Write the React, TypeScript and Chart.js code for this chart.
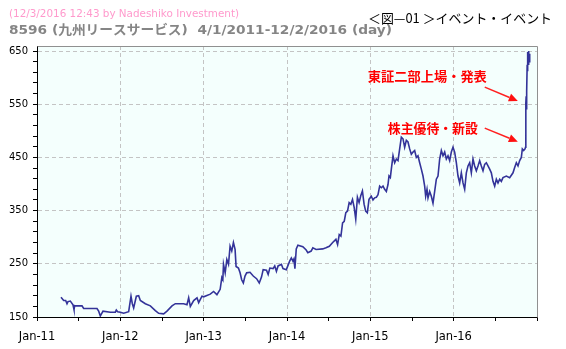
import React, { useEffect, useRef } from "react";
import { Chart, registerables } from "chart.js";

Chart.register(...registerables);

// Decimal-year dates and closing prices
const years: number[] = [
  2011.288, 2011.32, 2011.344, 2011.36, 2011.372, 2011.4, 2011.432, 2011.444, 2011.452, 2011.54,
  2011.56, 2011.72, 2011.74, 2011.76, 2011.792, 2011.88, 2011.94, 2011.952, 2011.968, 2012.0,
  2012.04, 2012.1, 2012.128, 2012.144, 2012.16, 2012.192, 2012.22, 2012.24, 2012.3, 2012.36,
  2012.42, 2012.46, 2012.52, 2012.56, 2012.62, 2012.66, 2012.76, 2012.8, 2012.82, 2012.84,
  2012.88, 2012.92, 2012.94, 2012.98,
  2013.0, 2013.079, 2013.119, 2013.159, 2013.198, 2013.218, 2013.23, 2013.238, 2013.258, 2013.278,
  2013.298, 2013.317, 2013.337, 2013.357, 2013.377, 2013.389, 2013.417, 2013.437, 2013.456, 2013.476,
  2013.496, 2013.516, 2013.556, 2013.595, 2013.635, 2013.667, 2013.694, 2013.714, 2013.754, 2013.774,
  2013.794, 2013.833, 2013.853, 2013.873, 2013.893, 2013.933, 2013.952, 2013.992, 2014.012, 2014.032,
  2014.052, 2014.071, 2014.083, 2014.095, 2014.111, 2014.131, 2014.19, 2014.23, 2014.25, 2014.29,
  2014.31, 2014.349, 2014.429, 2014.468, 2014.508, 2014.548, 2014.587, 2014.607, 2014.627, 2014.647,
  2014.667, 2014.687, 2014.706, 2014.726, 2014.746, 2014.766, 2014.786, 2014.806, 2014.825, 2014.845,
  2014.865, 2014.885, 2014.905, 2014.925, 2014.944, 2014.964, 2014.984,
  2015.012, 2015.032, 2015.052, 2015.072, 2015.092, 2015.112, 2015.132, 2015.152, 2015.172, 2015.192,
  2015.212, 2015.224, 2015.24, 2015.252, 2015.272, 2015.292, 2015.312, 2015.332, 2015.352, 2015.372,
  2015.392, 2015.412, 2015.432, 2015.452, 2015.472, 2015.492, 2015.512, 2015.532, 2015.552, 2015.572,
  2015.592, 2015.612, 2015.632, 2015.652, 2015.664, 2015.68, 2015.692, 2015.712, 2015.732, 2015.752,
  2015.772, 2015.792, 2015.812, 2015.832, 2015.852, 2015.872, 2015.892, 2015.912, 2015.932, 2015.952,
  2015.972, 2015.992, 2016.012, 2016.032, 2016.052, 2016.072, 2016.092, 2016.112, 2016.132, 2016.152,
  2016.172, 2016.192, 2016.212, 2016.232, 2016.252, 2016.272, 2016.292, 2016.312, 2016.332, 2016.352,
  2016.372, 2016.392, 2016.412, 2016.432, 2016.452, 2016.472, 2016.492, 2016.512, 2016.532, 2016.552,
  2016.572, 2016.592, 2016.632, 2016.672, 2016.712, 2016.732, 2016.752, 2016.772, 2016.792, 2016.812,
  2016.824, 2016.84, 2016.856, 2016.862, 2016.866, 2016.87, 2016.874, 2016.878, 2016.882, 2016.886,
  2016.89, 2016.896, 2016.9, 2016.905, 2016.91, 2016.915,
];

const prices: number[] = [
  187, 181, 181, 175, 179, 180, 173, 164, 171, 171,
  166, 166, 161, 152, 161, 159, 159, 163, 160, 159,
  157, 160, 189, 175, 167, 189, 190, 181, 175, 171,
  162, 157, 156, 161, 171, 175, 175, 173, 186, 170,
  181, 186, 177, 189,
  188, 193, 198, 192, 202, 224, 220, 249, 233, 258,
  249, 283, 274, 290, 277, 245, 242, 233, 220, 214,
  227, 233, 234, 227, 222, 214, 225, 239, 238, 230,
  242, 241, 246, 236, 246, 249, 241, 239, 247, 255,
  261, 255, 259, 241, 278, 285, 282, 276, 271, 274,
  280, 277, 278, 280, 283, 290, 296, 286, 305, 302,
  327, 330, 346, 349, 365, 362, 371, 356, 334, 375,
  365, 378, 387, 362, 349, 346, 371,
  377, 370, 374, 375, 380, 396, 393, 396, 390, 386,
  399, 415, 412, 428, 453, 440, 447, 444, 466, 488,
  485, 469, 482, 479, 466, 456, 460, 463, 450, 453,
  440, 428, 415, 396, 377, 390, 374, 386, 377, 364,
  386, 409, 415, 447, 463, 453, 460, 447, 453, 444,
  460, 469, 460, 440, 415, 402, 421, 402, 390, 421,
  434, 440, 421, 447, 434, 425, 434, 444, 434, 425,
  437, 440, 434, 428, 421, 405, 396, 409, 402, 409,
  405, 412, 415, 412, 421, 431, 440, 434, 444, 450,
  466, 463, 466, 469, 552, 565, 540, 575, 624, 612,
  648, 625, 650, 630, 645, 640,
];

const yTicks: number[] = [150, 250, 350, 450, 550, 650];
const xTickYears: number[] = [2011, 2012, 2013, 2014, 2015, 2016];

const stampText = "(12/3/2016 12:43 by Nadeshiko Investment)";
const titleText = "8596 (九州リースサービス)  4/1/2011-12/2/2016 (day)";
const figText = "＜図—01 ＞イベント・イベント";
const note1 = "東証二部上場・発表";
const note2 = "株主優待・新設";

const X_MIN = 2011;
const X_MAX = 2017;
const Y_MIN = 150;
const Y_MAX = 659.4;

const BASE_FONT = "'DejaVu Sans', Verdana, sans-serif";
const JP_FONT = "'DejaVu Sans', 'Noto Sans CJK JP', sans-serif";

function fitText(ctx: CanvasRenderingContext2D, text: string, x: number, y: number, width: number) {
  const w = ctx.measureText(text).width;
  ctx.save();
  ctx.translate(x, y);
  ctx.scale(width / w, 1);
  ctx.fillText(text, 0, 0);
  ctx.restore();
}

function drawArrow(ctx: CanvasRenderingContext2D, x1: number, y1: number, x2: number, y2: number) {
  const ang = Math.atan2(y2 - y1, x2 - x1);
  const headLen = 9;
  const headW = 4;
  const bx = x2 - headLen * Math.cos(ang);
  const by = y2 - headLen * Math.sin(ang);
  ctx.save();
  ctx.strokeStyle = "#ff2020";
  ctx.fillStyle = "#ff1010";
  ctx.lineWidth = 1.5;
  ctx.beginPath();
  ctx.moveTo(x1, y1);
  ctx.lineTo(bx, by);
  ctx.stroke();
  ctx.beginPath();
  ctx.moveTo(x2, y2);
  ctx.lineTo(bx + headW * Math.sin(ang), by - headW * Math.cos(ang));
  ctx.lineTo(bx - headW * Math.sin(ang), by + headW * Math.cos(ang));
  ctx.closePath();
  ctx.fill();
  ctx.restore();
}

const decorPlugin = {
  id: "decor",
  beforeDraw(chart: any) {
    const { ctx, chartArea } = chart;
    ctx.save();
    ctx.fillStyle = "#ffffff";
    ctx.fillRect(0, 0, chart.width, chart.height);
    ctx.fillStyle = "#f4fffd";
    ctx.fillRect(chartArea.left, chartArea.top, chartArea.right - chartArea.left, chartArea.bottom - chartArea.top);
    ctx.restore();
  },
  afterDraw(chart: any) {
    const { ctx, chartArea, scales } = chart;
    const xs = scales.x;
    const ys = scales.y;
    ctx.save();
    // frame top / right
    ctx.strokeStyle = "#909090";
    ctx.lineWidth = 1;
    ctx.beginPath();
    ctx.moveTo(Math.round(chartArea.left) + 0.5, Math.round(chartArea.top) + 0.5);
    ctx.lineTo(Math.round(chartArea.right) + 0.5, Math.round(chartArea.top) + 0.5);
    ctx.lineTo(Math.round(chartArea.right) + 0.5, Math.round(chartArea.bottom) + 0.5);
    ctx.stroke();

    // header texts
    ctx.textBaseline = "middle";
    ctx.textAlign = "left";
    ctx.fillStyle = "#ff99cc";
    ctx.font = `10px ${BASE_FONT}`;
    fitText(ctx, stampText, 9, 14.5, 230);

    ctx.fillStyle = "#858585";
    ctx.font = `bold 13px ${JP_FONT}`;
    fitText(ctx, titleText, 9, 31, 383);

    ctx.fillStyle = "#000000";
    ctx.font = `13px 'Noto Sans CJK JP', sans-serif`;
    fitText(ctx, figText, 368, 18, 184);

    // annotations (anchored in data coordinates)
    ctx.fillStyle = "#ff0000";
    ctx.font = `bold 13px 'Noto Sans CJK JP', sans-serif`;
    fitText(ctx, note1, xs.getPixelForValue(2014.97), ys.getPixelForValue(603), 119);
    fitText(ctx, note2, xs.getPixelForValue(2015.21), ys.getPixelForValue(506), 90);
    drawArrow(ctx, xs.getPixelForValue(2016.373), ys.getPixelForValue(582), xs.getPixelForValue(2016.77), ys.getPixelForValue(556));
    drawArrow(ctx, xs.getPixelForValue(2016.373), ys.getPixelForValue(505), xs.getPixelForValue(2016.77), ys.getPixelForValue(479.5));
    ctx.restore();
  },
};

export default function App() {
  const canvasRef = useRef<HTMLCanvasElement | null>(null);

  useEffect(() => {
    if (!canvasRef.current) return;
    const chart = new Chart(canvasRef.current, {
      type: "line",
      data: {
        datasets: [
          {
            data: years.map((x, i) => ({ x, y: prices[i] })),
            borderColor: "#333399",
            borderWidth: 1.6,
            pointRadius: 0,
            tension: 0,
            fill: false,
          },
        ],
      },
      options: {
        animation: false,
        responsive: false,
        devicePixelRatio: 1,
        layout: { padding: { left: 0, top: 46, right: 29, bottom: 0 } },
        plugins: { legend: { display: false }, tooltip: { enabled: false }, title: { display: false } },
        scales: {
          x: {
            type: "linear",
            min: X_MIN,
            max: X_MAX,
            afterBuildTicks: (scale: any) => {
              const t: { value: number }[] = [];
              for (let v = X_MIN; v <= X_MAX + 1e-9; v += 0.5) t.push({ value: v });
              scale.ticks = t;
            },
            afterFit: (scale: any) => {
              scale.height = 32;
            },
            ticks: {
              autoSkip: false,
              maxRotation: 0,
              padding: 9,
              color: "#000",
              font: { family: BASE_FONT, size: 11.5 },
              callback: (v: any) => (xTickYears.includes(v) ? "Jan-" + String(v).slice(2) : ""),
            },
            grid: {
              drawOnChartArea: true,
              color: (ctx: any) => {
                const v = ctx.tick ? ctx.tick.value : 0;
                return xTickYears.includes(v) && v > X_MIN ? "#c4c4c4" : "rgba(0,0,0,0)";
              },
              tickColor: "#000",
              tickLength: 4,
              tickBorderDash: [],
            },
            border: { display: true, color: "#000", width: 1, dash: [4, 3] },
          },
          y: {
            type: "linear",
            min: Y_MIN,
            max: Y_MAX,
            afterBuildTicks: (scale: any) => {
              const t: { value: number }[] = [];
              for (let v = 150; v <= 650; v += 20) t.push({ value: v });
              scale.ticks = t;
            },
            afterFit: (scale: any) => {
              scale.width = 37;
            },
            ticks: {
              autoSkip: false,
              padding: 5,
              color: "#000",
              font: { family: BASE_FONT, size: 10 },
              callback: (v: any) => (yTicks.includes(v) ? String(v) : ""),
            },
            grid: {
              color: (ctx: any) => {
                const v = ctx.tick ? ctx.tick.value : 0;
                return yTicks.includes(v) && v > Y_MIN ? "#c4c4c4" : "rgba(0,0,0,0)";
              },
              tickColor: "#000",
              tickLength: 4,
              tickBorderDash: [],
            },
            border: { display: true, color: "#000", width: 1, dash: [4, 3] },
          },
        },
      },
      plugins: [decorPlugin],
    } as any);
    return () => chart.destroy();
  }, []);

  return (
    <div style={{ position: "absolute", left: 0, top: 0, width: 566, height: 349, background: "#fff" }}>
      <canvas ref={canvasRef} width={566} height={349} style={{ display: "block" }} />
    </div>
  );
}
